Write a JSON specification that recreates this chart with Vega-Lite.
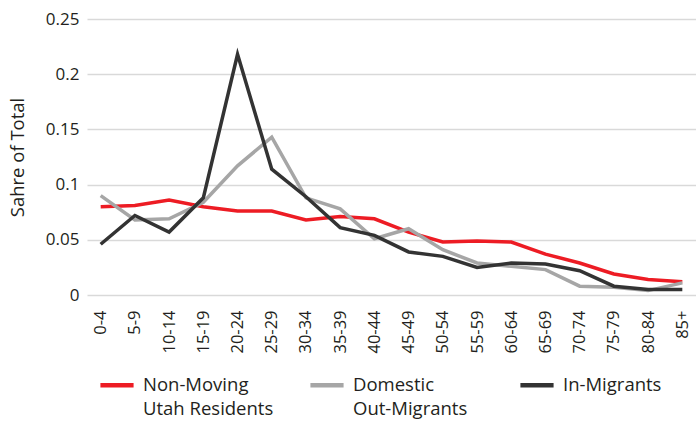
{
  "$schema": "https://vega.github.io/schema/vega-lite/v6.json",
  "width": 609,
  "height": 276,
  "autosize": {"type": "none"},
  "padding": {"left": 87, "top": 19, "right": 0, "bottom": 129},
  "config": {
    "view": {"stroke": null},
    "font": "Open Sans",
    "style": {"guide-label": {"lineHeight": 24}}
  },
  "data": {
    "values": [
      {"age": "0-4", "Non-Moving Utah Residents": 0.080, "Domestic Out-Migrants": 0.090, "In-Migrants": 0.046},
      {"age": "5-9", "Non-Moving Utah Residents": 0.081, "Domestic Out-Migrants": 0.068, "In-Migrants": 0.072},
      {"age": "10-14", "Non-Moving Utah Residents": 0.086, "Domestic Out-Migrants": 0.069, "In-Migrants": 0.057},
      {"age": "15-19", "Non-Moving Utah Residents": 0.080, "Domestic Out-Migrants": 0.084, "In-Migrants": 0.088},
      {"age": "20-24", "Non-Moving Utah Residents": 0.076, "Domestic Out-Migrants": 0.117, "In-Migrants": 0.218},
      {"age": "25-29", "Non-Moving Utah Residents": 0.076, "Domestic Out-Migrants": 0.143, "In-Migrants": 0.114},
      {"age": "30-34", "Non-Moving Utah Residents": 0.068, "Domestic Out-Migrants": 0.088, "In-Migrants": 0.089},
      {"age": "35-39", "Non-Moving Utah Residents": 0.071, "Domestic Out-Migrants": 0.078, "In-Migrants": 0.061},
      {"age": "40-44", "Non-Moving Utah Residents": 0.069, "Domestic Out-Migrants": 0.051, "In-Migrants": 0.054},
      {"age": "45-49", "Non-Moving Utah Residents": 0.057, "Domestic Out-Migrants": 0.060, "In-Migrants": 0.039},
      {"age": "50-54", "Non-Moving Utah Residents": 0.048, "Domestic Out-Migrants": 0.041, "In-Migrants": 0.035},
      {"age": "55-59", "Non-Moving Utah Residents": 0.049, "Domestic Out-Migrants": 0.029, "In-Migrants": 0.025},
      {"age": "60-64", "Non-Moving Utah Residents": 0.048, "Domestic Out-Migrants": 0.026, "In-Migrants": 0.029},
      {"age": "65-69", "Non-Moving Utah Residents": 0.037, "Domestic Out-Migrants": 0.023, "In-Migrants": 0.028},
      {"age": "70-74", "Non-Moving Utah Residents": 0.029, "Domestic Out-Migrants": 0.008, "In-Migrants": 0.022},
      {"age": "75-79", "Non-Moving Utah Residents": 0.019, "Domestic Out-Migrants": 0.007, "In-Migrants": 0.008},
      {"age": "80-84", "Non-Moving Utah Residents": 0.014, "Domestic Out-Migrants": 0.004, "In-Migrants": 0.005},
      {"age": "85+", "Non-Moving Utah Residents": 0.012, "Domestic Out-Migrants": 0.011, "In-Migrants": 0.005}
    ]
  },
  "transform": [
    {"fold": ["Non-Moving Utah Residents", "Domestic Out-Migrants", "In-Migrants"], "as": ["series", "value"]}
  ],
  "mark": {"type": "line", "strokeWidth": 3.5},
  "encoding": {
    "x": {
      "field": "age",
      "type": "nominal",
      "sort": ["0-4","5-9","10-14","15-19","20-24","25-29","30-34","35-39","40-44","45-49","50-54","55-59","60-64","65-69","70-74","75-79","80-84","85+"],
      "scale": {"type": "point", "padding": 0.4},
      "axis": {
        "title": null,
        "labelAngle": -90,
        "labelAlign": "right",
        "labelBaseline": "middle",
        "labelFontSize": 16.5,
        "labelColor": "#231f20",
        "labelPadding": 15,
        "ticks": false,
        "domain": false,
        "grid": false
      }
    },
    "y": {
      "field": "value",
      "type": "quantitative",
      "scale": {"domain": [0, 0.25]},
      "axis": {
        "title": "Sahre of Total",
        "titleFontSize": 18.5,
        "titleFontWeight": "normal",
        "titleColor": "#231f20",
        "titlePadding": 18,
        "values": [0, 0.05, 0.1, 0.15, 0.2, 0.25],
        "format": "~g",
        "labelFontSize": 17,
        "labelColor": "#231f20",
        "labelPadding": 8,
        "ticks": false,
        "domain": false,
        "grid": true,
        "gridColor": "#d9d9d9",
        "gridWidth": 1.5
      }
    },
    "color": {
      "field": "series",
      "type": "nominal",
      "sort": ["Non-Moving Utah Residents", "Domestic Out-Migrants", "In-Migrants"],
      "scale": {
        "domain": ["Non-Moving Utah Residents", "Domestic Out-Migrants", "In-Migrants"],
        "range": ["#ed1c24", "#a6a6a6", "#333333"]
      },
      "legend": {
        "title": null,
        "orient": "none",
        "legendX": 11,
        "legendY": 347,
        "direction": "horizontal",
        "columns": 3,
        "columnPadding": 27,
        "gridAlign": "all",
        "symbolType": "stroke",
        "symbolSize": 1100,
        "symbolStrokeWidth": 4.5,
        "labelFontSize": 18.5,
        "labelColor": "#231f20",
        "labelOffset": 7,
        "labelLimit": 300,
        "labelExpr": "datum.label == 'Non-Moving Utah Residents' ? ['Non-Moving', 'Utah Residents'] : datum.label == 'Domestic Out-Migrants' ? ['Domestic', 'Out-Migrants'] : ['In-Migrants', '']"
      }
    }
  }
}
